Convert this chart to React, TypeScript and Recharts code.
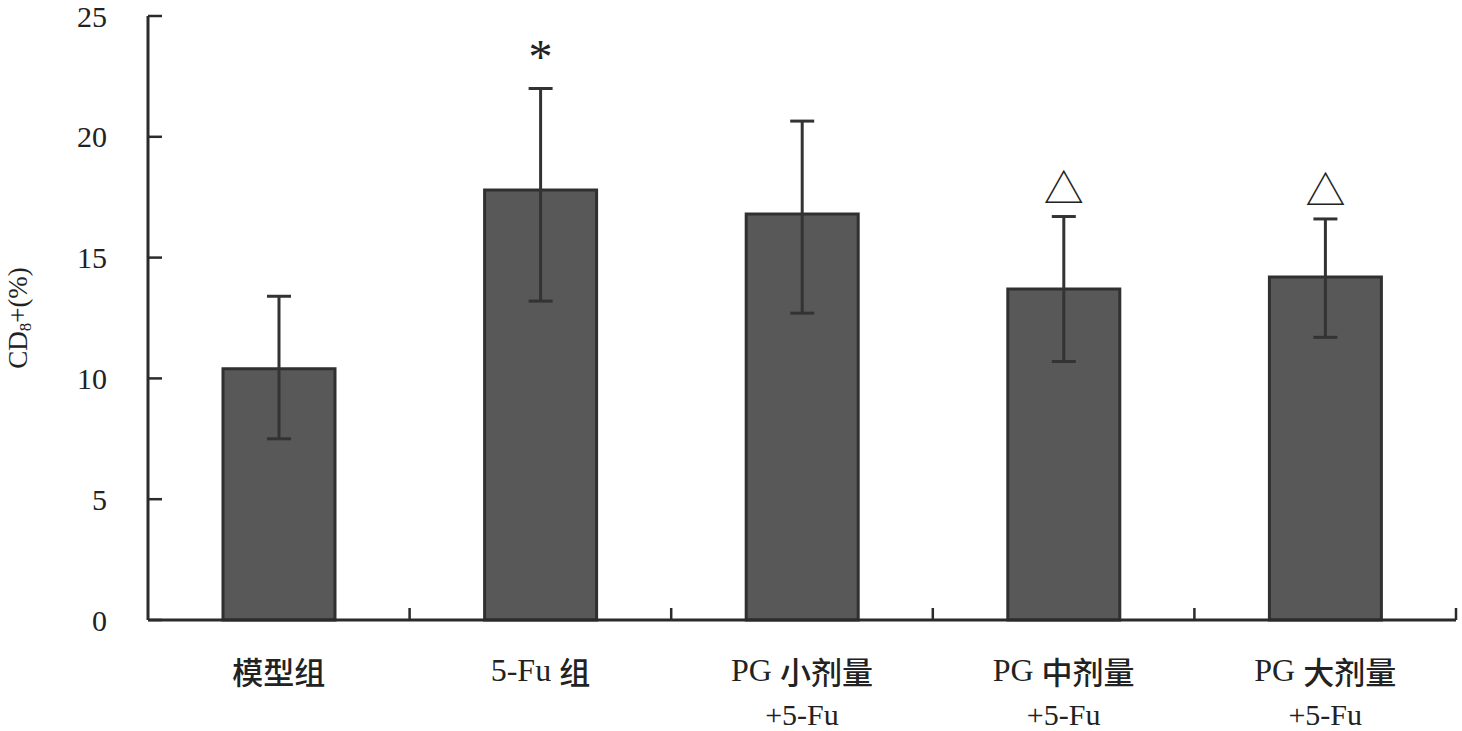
import React from "react";
import { ComposedChart, Bar, XAxis, YAxis, ErrorBar, LabelList } from "recharts";

const categories = ["模型组", "5-Fu 组", "PG 小剂量", "PG 中剂量", "PG 大剂量"];
const categorySub = ["", "", "+5-Fu", "+5-Fu", "+5-Fu"];
const means = [10.4, 17.8, 16.8, 13.7, 14.2];
const errMinus = [2.9, 4.6, 4.1, 3.0, 2.5];
const errPlus = [3.0, 4.2, 3.85, 3.0, 2.4];
const marks = ["", "*", "", "△", "△"];
const yTicks = [0, 5, 10, 15, 20, 25];

const data = categories.map((name, i) => ({
  name,
  sub: categorySub[i],
  value: means[i],
  err: [errMinus[i], errPlus[i]],
  mark: marks[i],
}));

const INK = "#2b2b2b";
const TEXT = "#222";
const SERIF = "'Liberation Serif', 'Times New Roman', serif";
const CJK = "'Noto Sans CJK SC', sans-serif";

// split a label into Latin and CJK runs so each gets its own font
const runs = (s: string) => {
  const out: { t: string; cjk: boolean }[] = [];
  for (const ch of s) {
    const cjk = /[\u3000-\u9fff\uff00-\uffef]/.test(ch);
    const last = out[out.length - 1];
    if (last && last.cjk === cjk) last.t += ch;
    else out.push({ t: ch, cjk });
  }
  return out;
};

const MixedText = ({ x, y, s, size = 32 }: { x: number; y: number; s: string; size?: number }) => (
  <text x={x} y={y} textAnchor="middle" dominantBaseline="central" fill={TEXT} style={{ whiteSpace: "pre" }}>
    {runs(s).map((r, i) =>
      r.cjk ? (
        <tspan key={i} fontFamily={CJK} fontSize={size - 1} fontWeight={500}>
          {r.t}
        </tspan>
      ) : (
        <tspan key={i} fontFamily={SERIF} fontSize={size}>
          {r.t}
        </tspan>
      )
    )}
  </text>
);

const XTick = (props: any) => {
  const { x, y, payload, index, width, visibleTicksCount } = props;
  const half =
    payload && typeof payload.offset === "number" && payload.offset > 0
      ? payload.offset
      : width / (visibleTicksCount || 5) / 2;
  const bx = x + half;
  return (
    <g>
      <line x1={bx} y1={y} x2={bx} y2={y - 12} stroke={INK} strokeWidth={2.5} />
      <MixedText x={x} y={y + 50} s={categories[index] ?? payload.value} />
      {categorySub[index] ? <MixedText x={x} y={y + 94} s={categorySub[index]} size={30} /> : null}
    </g>
  );
};

const MarkLabel = (props: any) => {
  const { value, index } = props;
  const vb = props.viewBox || props;
  if (!value) return null;
  const { x, y, width, height } = vb;
  const pxPerUnit = height / means[index];
  const errTop = y - errPlus[index] * pxPerUnit;
  const cx = x + width / 2;
  if (value === "*") {
    return (
      <text
        x={cx}
        y={errTop - 36}
        textAnchor="middle"
        dominantBaseline="central"
        dy={4}
        fontFamily={SERIF}
        fontSize={48}
        fill={TEXT}
      >
        {value}
      </text>
    );
  }
  return (
    <text
      x={cx}
      y={errTop - 31}
      textAnchor="middle"
      dominantBaseline="central"
      fontFamily={CJK}
      fontSize={40}
      fill={TEXT}
    >
      {value}
    </text>
  );
};

const YLabel = (props: any) => {
  const vb = props.viewBox || { x: 0, y: 0, width: 0, height: 0 };
  const cx = vb.x + 18;
  const cy = vb.y + vb.height / 2;
  return (
    <text
      x={cx}
      y={cy}
      transform={`rotate(-90, ${cx}, ${cy})`}
      textAnchor="middle"
      dominantBaseline="central"
      fontFamily={SERIF}
      fontSize={27}
      fill={TEXT}
    >
      CD
      <tspan fontSize={17} dy={7}>8</tspan>
      <tspan dy={-7}>+(%)</tspan>
    </text>
  );
};

export default function App() {
  return (
    <div style={{ position: "absolute", left: 0, top: 0, width: 1462, height: 731, background: "#ffffff" }}>
      <ComposedChart
        width={1462}
        height={731}
        data={data}
        margin={{ top: 16, right: 6, bottom: 0, left: 0 }}
      >
        <XAxis
          dataKey="name"
          type="category"
          height={111}
          axisLine={{ stroke: INK, strokeWidth: 3 }}
          tickLine={false}
          tickSize={0}
          tickMargin={0}
          interval={0}
          tick={(p: any) => <XTick {...p} />}
        />
        <YAxis
          type="number"
          domain={[0, 25]}
          ticks={yTicks}
          width={148}
          interval={0}
          axisLine={{ stroke: INK, strokeWidth: 3 }}
          tickLine={{ stroke: INK, strokeWidth: 2.5 }}
          tickSize={-14}
          tickMargin={55}
          tick={{ fontFamily: SERIF, fontSize: 30, fill: TEXT }}
          label={<YLabel />}
        />
        <Bar
          dataKey="value"
          barSize={112}
          fill="#585858"
          stroke="#303030"
          strokeWidth={3}
          isAnimationActive={false}
        >
          <ErrorBar dataKey="err" width={12} stroke="#333" strokeWidth={3} direction="y" />
          <LabelList dataKey="mark" content={(p: any) => <MarkLabel {...p} />} />
        </Bar>
      </ComposedChart>
    </div>
  );
}
